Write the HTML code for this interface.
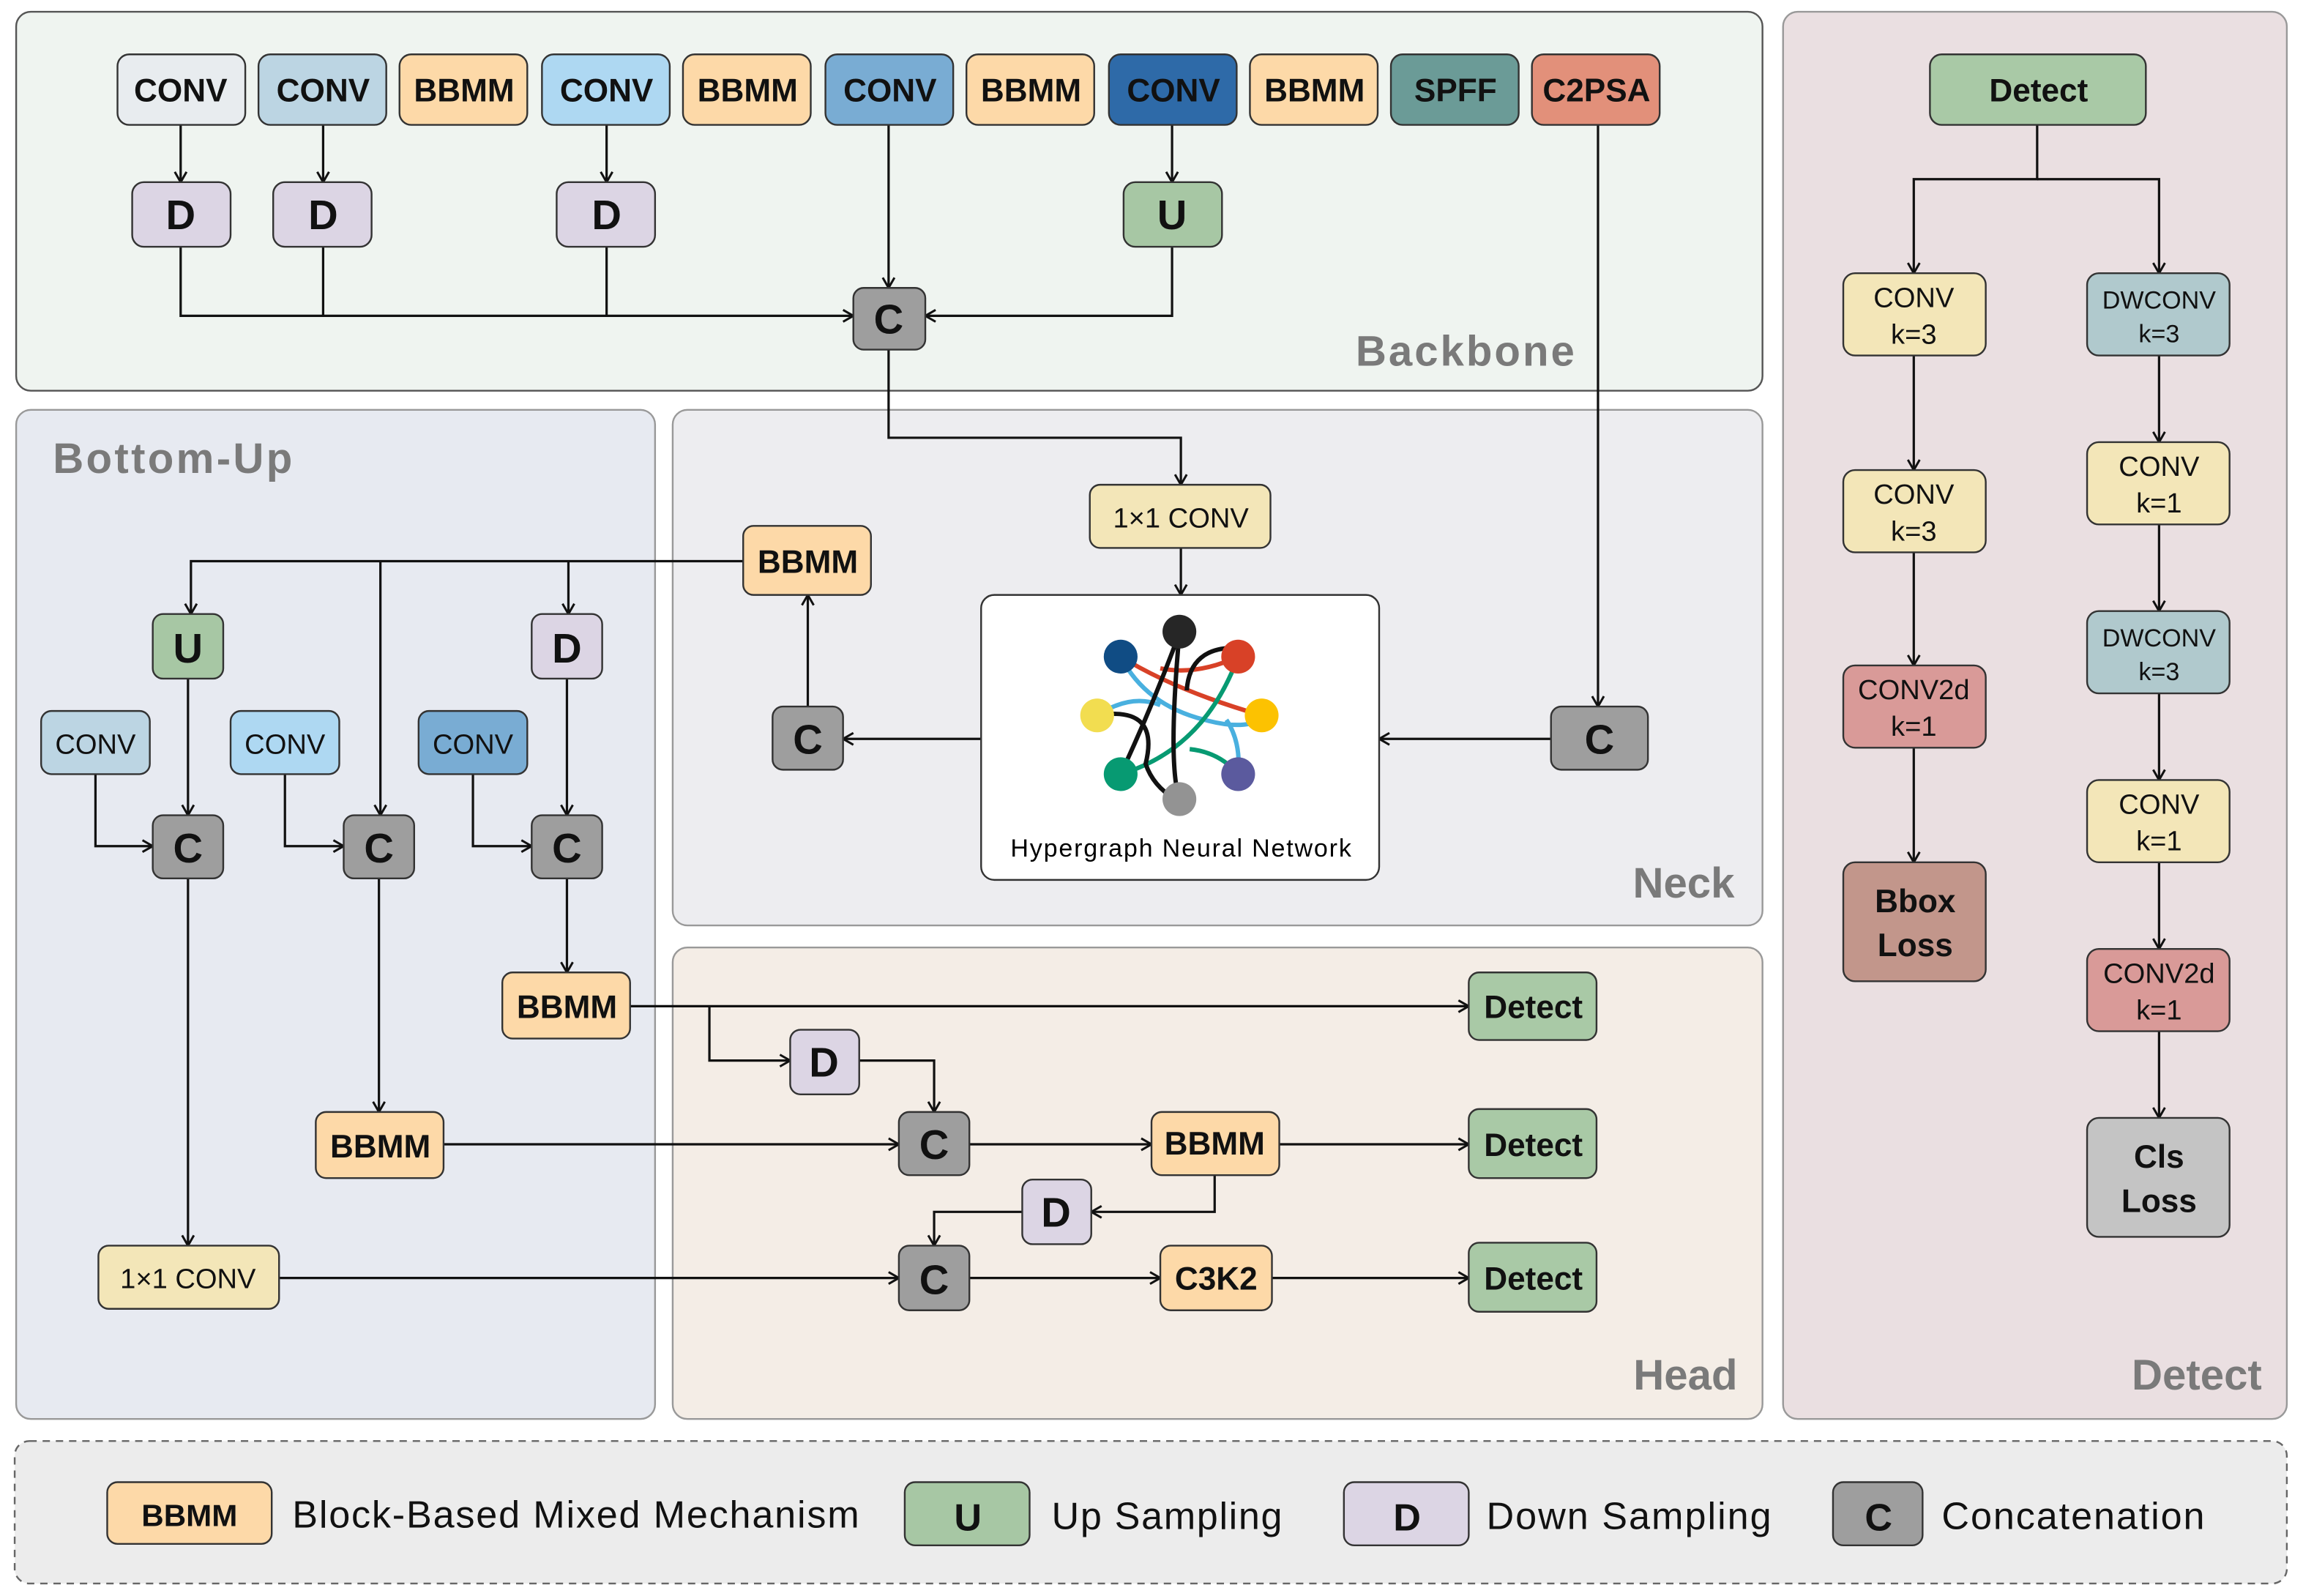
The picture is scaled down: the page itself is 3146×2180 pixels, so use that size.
<!DOCTYPE html>
<html><head><meta charset="utf-8"><style>
html,body{margin:0;padding:0;background:#fff;}
svg{display:block;}
text{font-family:"Liberation Sans","DejaVu Sans",sans-serif;}
</style></head><body>
<svg width="3146" height="2180" viewBox="0 0 1568 1086.5" preserveAspectRatio="none" xmlns="http://www.w3.org/2000/svg">
<defs>
<marker id="a" markerWidth="10" markerHeight="10" refX="8" refY="5" orient="auto" markerUnits="userSpaceOnUse">
<path d="M1,1 L8,5 L1,9" fill="none" stroke="#111" stroke-width="1.5"/></marker>
</defs>
<rect width="1568" height="1086.5" fill="#fff"/>
<!-- panels -->
<rect x="11" y="8" width="1189" height="258" rx="10" fill="#eff4f0" stroke="#555" stroke-width="1.2"/>
<rect x="11" y="279" width="435" height="687" rx="10" fill="#e7eaf1" stroke="#999" stroke-width="1.2"/>
<rect x="458" y="279" width="742" height="351" rx="10" fill="#ededf0" stroke="#999" stroke-width="1.2"/>
<rect x="458" y="645" width="742" height="321" rx="10" fill="#f4ede6" stroke="#999" stroke-width="1.2"/>
<rect x="1214" y="8" width="343" height="958" rx="10" fill="#eadfe1" stroke="#999" stroke-width="1.2"/>
<rect x="10" y="981" width="1547" height="97" rx="10" fill="#ececec" stroke="#666" stroke-width="1.2" stroke-dasharray="5,4"/>
<g font-weight="bold" font-size="29" fill="#7a7a7a">
<text x="923" y="249" textLength="149">Backbone</text>
<text x="36" y="322" textLength="163">Bottom-Up</text>
<text x="1181" y="611" text-anchor="end">Neck</text>
<text x="1183" y="946" text-anchor="end">Head</text>
<text x="1540" y="946" text-anchor="end">Detect</text>
</g>
<!-- connectors -->
<g fill="none" stroke="#111" stroke-width="1.6">
<path d="M123,85 V124" marker-end="url(#a)"/>
<path d="M220,85 V124" marker-end="url(#a)"/>
<path d="M413,85 V124" marker-end="url(#a)"/>
<path d="M798,85 V124" marker-end="url(#a)"/>
<path d="M605,85 V196" marker-end="url(#a)"/>
<path d="M123,168 V215 H581" marker-end="url(#a)"/>
<path d="M220,168 V215"/><path d="M413,168 V215"/>
<path d="M798,168 V215 H630" marker-end="url(#a)"/>
<path d="M605,238 V298 H804 V330" marker-end="url(#a)"/>
<path d="M1088,85 V481" marker-end="url(#a)"/>
<path d="M804,373 V405" marker-end="url(#a)"/>
<path d="M1056,503 H939" marker-end="url(#a)"/>
<path d="M668,503 H574" marker-end="url(#a)"/>
<path d="M550,481 V405" marker-end="url(#a)"/>
<path d="M506,382 H130 V418" marker-end="url(#a)"/>
<path d="M259,382 V555" marker-end="url(#a)"/>
<path d="M387,382 V418" marker-end="url(#a)"/>
<path d="M128,462 V555" marker-end="url(#a)"/>
<path d="M386,462 V555" marker-end="url(#a)"/>
<path d="M65,527 V576 H104" marker-end="url(#a)"/>
<path d="M194,527 V576 H234" marker-end="url(#a)"/>
<path d="M322,527 V576 H362" marker-end="url(#a)"/>
<path d="M386,598 V662" marker-end="url(#a)"/>
<path d="M258,598 V757" marker-end="url(#a)"/>
<path d="M128,598 V848" marker-end="url(#a)"/>
<path d="M429,685 H1000" marker-end="url(#a)"/>
<path d="M483,685 V722 H538" marker-end="url(#a)"/>
<path d="M585,722 H636 V757" marker-end="url(#a)"/>
<path d="M302,779 H612" marker-end="url(#a)"/>
<path d="M660,779 H784" marker-end="url(#a)"/>
<path d="M871,779 H1000" marker-end="url(#a)"/>
<path d="M827,800 V825 H743" marker-end="url(#a)"/>
<path d="M696,825 H636 V848" marker-end="url(#a)"/>
<path d="M190,870 H612" marker-end="url(#a)"/>
<path d="M660,870 H790" marker-end="url(#a)"/>
<path d="M866,870 H1000" marker-end="url(#a)"/>
<path d="M1387,85 V122 H1303 V186" marker-end="url(#a)"/>
<path d="M1387,122 H1470 V186" marker-end="url(#a)"/>
<path d="M1303,242 V320" marker-end="url(#a)"/>
<path d="M1303,376 V453" marker-end="url(#a)"/>
<path d="M1303,509 V587" marker-end="url(#a)"/>
<path d="M1470,242 V301" marker-end="url(#a)"/>
<path d="M1470,357 V416" marker-end="url(#a)"/>
<path d="M1470,472 V531" marker-end="url(#a)"/>
<path d="M1470,587 V646" marker-end="url(#a)"/>
<path d="M1470,702 V761" marker-end="url(#a)"/>
</g>
<!-- nodes -->
<g stroke="#333" stroke-width="1.2">
<rect x="80" y="37" width="87" height="48" rx="8" fill="#e8ecef"/>
<rect x="176" y="37" width="87" height="48" rx="8" fill="#bcd5e3"/>
<rect x="272" y="37" width="87" height="48" rx="8" fill="#fdd9a8"/>
<rect x="369" y="37" width="87" height="48" rx="8" fill="#aed8f2"/>
<rect x="465" y="37" width="87" height="48" rx="8" fill="#fdd9a8"/>
<rect x="562" y="37" width="87" height="48" rx="8" fill="#79acd3"/>
<rect x="658" y="37" width="87" height="48" rx="8" fill="#fdd9a8"/>
<rect x="755" y="37" width="87" height="48" rx="8" fill="#2e6aa8"/>
<rect x="851" y="37" width="87" height="48" rx="8" fill="#fdd9a8"/>
<rect x="947" y="37" width="87" height="48" rx="8" fill="#6b9b97"/>
<rect x="1043" y="37" width="87" height="48" rx="8" fill="#e2907a"/>
<rect x="90" y="124" width="67" height="44" rx="8" fill="#dcd5e4"/>
<rect x="186" y="124" width="67" height="44" rx="8" fill="#dcd5e4"/>
<rect x="379" y="124" width="67" height="44" rx="8" fill="#dcd5e4"/>
<rect x="765" y="124" width="67" height="44" rx="8" fill="#a7c7a4"/>
<rect x="581" y="196" width="49" height="42" rx="7" fill="#9e9e9e"/>
<rect x="742" y="330" width="123" height="43" rx="7" fill="#f3e6b8"/>
<rect x="668" y="405" width="271" height="194" rx="9" fill="#fff"/>
<rect x="1056" y="481" width="66" height="43" rx="7" fill="#9e9e9e"/>
<rect x="526" y="481" width="48" height="43" rx="7" fill="#9e9e9e"/>
<rect x="506" y="358" width="87" height="47" rx="7" fill="#fdd9a8"/>
<rect x="104" y="418" width="48" height="44" rx="7" fill="#a7c7a4"/>
<rect x="362" y="418" width="48" height="44" rx="7" fill="#dcd5e4"/>
<rect x="28" y="484" width="74" height="43" rx="7" fill="#bcd5e3"/>
<rect x="157" y="484" width="74" height="43" rx="7" fill="#aed8f2"/>
<rect x="285" y="484" width="74" height="43" rx="7" fill="#79acd3"/>
<rect x="104" y="555" width="48" height="43" rx="7" fill="#9e9e9e"/>
<rect x="234" y="555" width="48" height="43" rx="7" fill="#9e9e9e"/>
<rect x="362" y="555" width="48" height="43" rx="7" fill="#9e9e9e"/>
<rect x="342" y="662" width="87" height="45" rx="7" fill="#fdd9a8"/>
<rect x="215" y="757" width="87" height="45" rx="7" fill="#fdd9a8"/>
<rect x="67" y="848" width="123" height="43" rx="7" fill="#f3e6b8"/>
<rect x="1000" y="662" width="87" height="46" rx="7" fill="#a9c9a6"/>
<rect x="538" y="701" width="47" height="44" rx="7" fill="#dcd5e4"/>
<rect x="612" y="757" width="48" height="43" rx="7" fill="#9e9e9e"/>
<rect x="784" y="757" width="87" height="43" rx="7" fill="#fdd9a8"/>
<rect x="1000" y="755" width="87" height="47" rx="7" fill="#a9c9a6"/>
<rect x="696" y="803" width="47" height="44" rx="7" fill="#dcd5e4"/>
<rect x="612" y="848" width="48" height="44" rx="7" fill="#9e9e9e"/>
<rect x="790" y="848" width="76" height="44" rx="7" fill="#fdd9a8"/>
<rect x="1000" y="846" width="87" height="47" rx="7" fill="#a9c9a6"/>
<rect x="1314" y="37" width="147" height="48" rx="8" fill="#a9c9a6"/>
<rect x="1255" y="186" width="97" height="56" rx="8" fill="#f3e6b8"/>
<rect x="1255" y="320" width="97" height="56" rx="8" fill="#f3e6b8"/>
<rect x="1255" y="453" width="97" height="56" rx="8" fill="#d99a98"/>
<rect x="1255" y="587" width="97" height="81" rx="8" fill="#c2968b"/>
<rect x="1421" y="186" width="97" height="56" rx="8" fill="#b0c9cd"/>
<rect x="1421" y="301" width="97" height="56" rx="8" fill="#f3e6b8"/>
<rect x="1421" y="416" width="97" height="56" rx="8" fill="#b0c9cd"/>
<rect x="1421" y="531" width="97" height="56" rx="8" fill="#f3e6b8"/>
<rect x="1421" y="646" width="97" height="56" rx="8" fill="#d99a98"/>
<rect x="1421" y="761" width="97" height="81" rx="8" fill="#c4c4c4"/>
<rect x="73" y="1009" width="112" height="42" rx="7" fill="#fdd9a8"/>
<rect x="616" y="1009" width="85" height="43" rx="7" fill="#a7c7a4"/>
<rect x="915" y="1009" width="85" height="43" rx="7" fill="#dcd5e4"/>
<rect x="1248" y="1009" width="61" height="43" rx="7" fill="#9e9e9e"/>
</g>
<!-- hypergraph -->
<g fill="none" stroke-width="3">
<path d="M763,447 Q800,470 859,487" stroke="#d84127"/>
<path d="M843,447 Q815,460 790,455" stroke="#d84127"/>
<path d="M763,447 Q780,480 820,490 Q845,497 859,490" stroke="#49b0df"/>
<path d="M747,487 Q770,472 790,480" stroke="#49b0df"/>
<path d="M835,490 Q845,505 843,527" stroke="#49b0df"/>
<path d="M843,447 Q820,510 763,527" stroke="#079a72"/>
<path d="M810,510 Q830,512 843,527" stroke="#079a72"/>
<path d="M803,431 Q785,480 763,527" stroke="#111"/>
<path d="M803,431 Q795,520 803,544" stroke="#111"/>
<path d="M747,487 Q790,480 780,520 Q785,535 800,544" stroke="#111"/>
<path d="M843,441 Q810,440 808,470" stroke="#111"/>
</g>
<g>
<circle cx="803" cy="430" r="11.5" fill="#262626"/>
<circle cx="843" cy="447" r="11.5" fill="#d84127"/>
<circle cx="763" cy="447" r="11.5" fill="#104c84"/>
<circle cx="747" cy="487" r="11.5" fill="#f2dd50"/>
<circle cx="859" cy="487" r="11.5" fill="#fcc201"/>
<circle cx="763" cy="527" r="11.5" fill="#079a72"/>
<circle cx="843" cy="527" r="11.5" fill="#5b5a9e"/>
<circle cx="803" cy="544" r="11.5" fill="#939393"/>
</g>
<text x="688" y="583" font-size="17" textLength="232">Hypergraph Neural Network</text>
<!-- labels -->
<g font-weight="bold" font-size="22" text-anchor="middle" fill="#111">
<text x="123" y="69">CONV</text><text x="220" y="69">CONV</text><text x="316" y="69">BBMM</text>
<text x="413" y="69">CONV</text><text x="509" y="69">BBMM</text><text x="606" y="69">CONV</text>
<text x="702" y="69">BBMM</text><text x="799" y="69">CONV</text><text x="895" y="69">BBMM</text>
<text x="991" y="69">SPFF</text><text x="1087" y="69">C2PSA</text>
<text x="550" y="390">BBMM</text>
<text x="386" y="693">BBMM</text><text x="259" y="788">BBMM</text>
<text x="827" y="786">BBMM</text><text x="828" y="878">C3K2</text>
<text x="1044" y="693">Detect</text><text x="1044" y="787">Detect</text><text x="1044" y="878">Detect</text>
<text x="1388" y="69">Detect</text>
</g>
<g font-weight="bold" font-size="28" text-anchor="middle" fill="#111">
<text x="123" y="156">D</text><text x="220" y="156">D</text><text x="413" y="156">D</text><text x="798" y="156">U</text>
<text x="605" y="227">C</text><text x="1089" y="513">C</text><text x="550" y="513">C</text>
<text x="128" y="451">U</text><text x="386" y="451">D</text>
<text x="128" y="587">C</text><text x="258" y="587">C</text><text x="386" y="587">C</text>
<text x="561" y="733">D</text><text x="636" y="789">C</text><text x="719" y="835">D</text><text x="636" y="881">C</text>
</g>
<g font-size="19" text-anchor="middle" fill="#111">
<text x="804" y="359">1×1 CONV</text><text x="128" y="877">1×1 CONV</text>
<text x="65" y="513">CONV</text><text x="194" y="513">CONV</text><text x="322" y="513">CONV</text>
<text x="1303" y="209">CONV</text><text x="1303" y="234">k=3</text>
<text x="1303" y="343">CONV</text><text x="1303" y="368">k=3</text>
<text x="1303" y="476">CONV2d</text><text x="1303" y="501">k=1</text>
<text x="1470" y="210" font-size="17">DWCONV</text><text x="1470" y="233" font-size="17">k=3</text>
<text x="1470" y="324">CONV</text><text x="1470" y="349">k=1</text>
<text x="1470" y="440" font-size="17">DWCONV</text><text x="1470" y="463" font-size="17">k=3</text>
<text x="1470" y="554">CONV</text><text x="1470" y="579">k=1</text>
<text x="1470" y="669">CONV2d</text><text x="1470" y="694">k=1</text>
</g>
<g font-weight="bold" font-size="22" text-anchor="middle" fill="#111">
<text x="1304" y="621">Bbox</text><text x="1304" y="651">Loss</text>
<text x="1470" y="795">Cls</text><text x="1470" y="825">Loss</text>
</g>
<g font-size="26" fill="#111">
<text x="129" y="1039" font-size="21" font-weight="bold" text-anchor="middle">BBMM</text>
<text x="659" y="1042" font-weight="bold" text-anchor="middle">U</text>
<text x="958" y="1042" font-weight="bold" text-anchor="middle">D</text>
<text x="1279" y="1042" font-weight="bold" text-anchor="middle">C</text>
<text x="199" y="1040" textLength="386">Block-Based Mixed Mechanism</text>
<text x="716" y="1041" textLength="157">Up Sampling</text>
<text x="1012" y="1041" textLength="194">Down Sampling</text>
<text x="1322" y="1041" textLength="179">Concatenation</text>
</g>
</svg>
</body></html>
